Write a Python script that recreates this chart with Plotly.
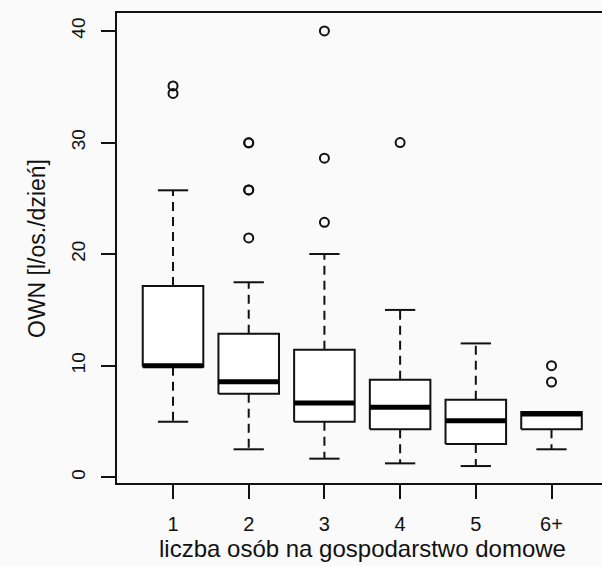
import plotly.graph_objects as go

categories = ["1", "2", "3", "4", "5", "6+"]
positions = [1, 2, 3, 4, 5, 6]
q1 = [9.9, 7.49, 4.98, 4.3, 2.98, 4.3]
median = [10.0, 8.57, 6.66, 6.27, 5.07, 5.68]
q3 = [17.15, 12.87, 11.44, 8.75, 6.95, 5.85]
whisker_low = [4.98, 2.51, 1.67, 1.25, 1.01, 2.51]
whisker_high = [25.72, 17.48, 20.01, 15.0, 12.0, 5.85]
outliers = [
    [35.07, 34.4],
    [29.98, 29.98, 25.75, 25.75, 21.45],
    [40.0, 28.6, 22.85],
    [30.0],
    [],
    [10.0, 8.54],
]
y_ticks = [0, 10, 20, 30, 40]

BOX_HALF = 0.4
CAP_HALF = 0.2
INK = "#111111"
FONT = "Liberation Sans, Arial, Helvetica, sans-serif"

fig = go.Figure()

# boxes
for p, a, b in zip(positions, q1, q3):
    fig.add_trace(go.Scatter(
        x=[p - BOX_HALF, p + BOX_HALF, p + BOX_HALF, p - BOX_HALF, p - BOX_HALF],
        y=[a, a, b, b, a],
        mode="lines", fill="toself", fillcolor="white",
        line=dict(color=INK, width=2), hoverinfo="skip", showlegend=False))

# whiskers (dashed)
wx, wy = [], []
for p, a, b, lo, hi in zip(positions, q1, q3, whisker_low, whisker_high):
    if hi > b:
        wx += [p, p, None]
        wy += [b, hi, None]
    if lo < a:
        wx += [p, p, None]
        wy += [a, lo, None]
fig.add_trace(go.Scatter(x=wx, y=wy, mode="lines",
                         line=dict(color=INK, width=2, dash="9px,6px"),
                         hoverinfo="skip", showlegend=False))

# caps
cx, cy = [], []
for p, lo, hi in zip(positions, whisker_low, whisker_high):
    cx += [p - CAP_HALF, p + CAP_HALF, None, p - CAP_HALF, p + CAP_HALF, None]
    cy += [hi, hi, None, lo, lo, None]
fig.add_trace(go.Scatter(x=cx, y=cy, mode="lines",
                         line=dict(color=INK, width=2),
                         hoverinfo="skip", showlegend=False))

# medians
mx, my = [], []
for p, m in zip(positions, median):
    mx += [p - BOX_HALF, p + BOX_HALF, None]
    my += [m, m, None]
fig.add_trace(go.Scatter(x=mx, y=my, mode="lines",
                         line=dict(color="black", width=5),
                         hoverinfo="skip", showlegend=False))

# outliers
ox, oy = [], []
for p, vals in zip(positions, outliers):
    for v in vals:
        ox.append(p)
        oy.append(v)
fig.add_trace(go.Scatter(x=ox, y=oy, mode="markers",
                         marker=dict(symbol="circle-open", size=9, color=INK,
                                     line=dict(width=2, color=INK)),
                         hoverinfo="skip", showlegend=False))

fig.update_layout(
    width=602, height=566,
    margin=dict(l=117, r=0, t=13, b=83),
    paper_bgcolor="#fafafa", plot_bgcolor="#fafafa",
    font=dict(family=FONT, color=INK, size=18),
    showlegend=False,
    xaxis=dict(
        range=[0.26, 6.667], tickmode="array", tickvals=positions, ticktext=categories,
        showgrid=False, zeroline=False, showline=True, mirror=True,
        linecolor=INK, linewidth=2, ticks="outside", ticklen=14, tickwidth=2,
        tickcolor=INK, tickfont=dict(size=20), ticklabelstandoff=8),
    yaxis=dict(
        range=[-0.51, 41.61], tickmode="array", tickvals=y_ticks,
        showgrid=False, zeroline=False, showline=True, mirror=False,
        linecolor=INK, linewidth=2, ticks="outside", ticklen=14, tickwidth=2,
        tickcolor=INK, tickangle=-90, tickfont=dict(size=19), ticklabelstandoff=8),
    annotations=[
        dict(text="liczba osób na gospodarstwo domowe", xref="x", x=3.5,
             yref="paper", y=-0.1404, xanchor="center", yanchor="middle",
             showarrow=False, font=dict(size=24)),
        dict(text="OWN [l/os./dzień]", xref="paper", x=-0.165, yref="paper", y=0.5,
             xanchor="center", yanchor="middle", textangle=-90,
             showarrow=False, font=dict(size=23)),
    ],
)

fig.write_html(
    "out.html",
    config={"displayModeBar": False},
    post_script="document.body.style.margin='0';document.body.style.background='#fafafa';",
)
